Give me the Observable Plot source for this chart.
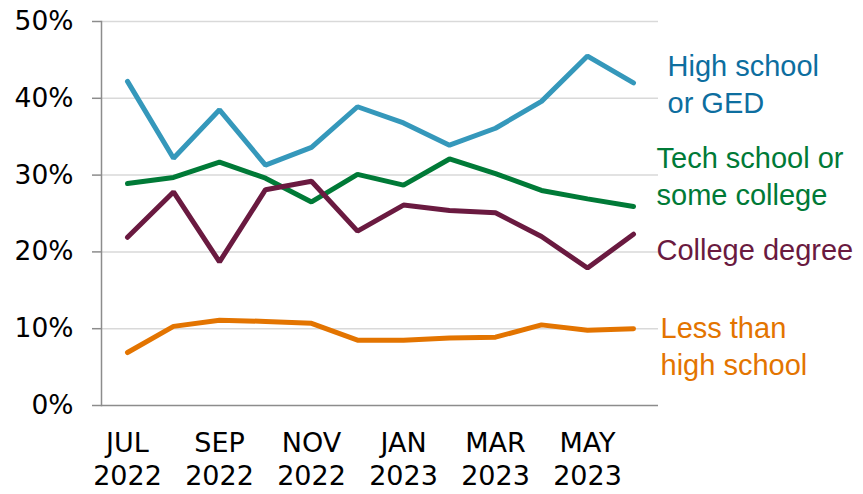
<!DOCTYPE html>
<html>
<head>
<meta charset="utf-8">
<script src="https://cdn.jsdelivr.net/npm/d3@7"></script>
<script src="https://cdn.jsdelivr.net/npm/@observablehq/plot@0.6"></script>
<style>
  html, body { margin: 0; padding: 0; background: #fff; }
  #chart svg { display: block; }
</style>
</head>
<body>
<div id="chart"></div>
<script>
// Months (x categories)
const months = ["JUL 2022","AUG 2022","SEP 2022","OCT 2022","NOV 2022","DEC 2022",
                "JAN 2023","FEB 2023","MAR 2023","APR 2023","MAY 2023","JUN 2023"];
// Labeled ticks on the x axis
const xTickMonths = ["JUL 2022","SEP 2022","NOV 2022","JAN 2023","MAR 2023","MAY 2023"];
// Y ticks
const yTicks = [0, 0.1, 0.2, 0.3, 0.4, 0.5];

// Series values (share)
const highSchool = [0.422,0.322,0.385,0.313,0.336,0.389,0.368,0.339,0.361,0.396,0.455,0.420];
const techSchool = [0.289,0.297,0.317,0.296,0.265,0.301,0.287,0.321,0.302,0.280,0.269,0.259];
const collegeDegree = [0.219,0.278,0.187,0.281,0.292,0.227,0.261,0.254,0.251,0.220,0.179,0.223];
const lessThanHS = [0.069,0.103,0.111,0.1095,0.107,0.085,0.085,0.088,0.089,0.105,0.098,0.100];

// Series names, colours, label text
const seriesNames = ["High school or GED","Tech school or some college","College degree","Less than high school"];
const seriesValues = [highSchool, techSchool, collegeDegree, lessThanHS];
const lineColors = ["#3598bb","#007a37","#6a1a40","#e37400"];
const labelColors = ["#0d6e9f","#007a37","#6a1a40","#e37400"];
const labelText = ["High school\nor GED","Tech school or\nsome college","College degree","Less than\nhigh school"];
const labelDx = [34, 23, 23, 27];
const labelDy = [0, -32, 14, 16];

const rows = [];
seriesNames.forEach((s, i) => {
  seriesValues[i].forEach((v, j) => rows.push({series: s, month: months[j], value: v}));
});
const lastRows = seriesNames.map((s, i) => ({
  series: s, month: months[months.length - 1], value: seriesValues[i][months.length - 1],
  text: labelText[i], color: labelColors[i], dx: labelDx[i], dy: labelDy[i]
}));

const tickFont = "'DejaVu Sans', Verdana, sans-serif";
const labelFont = "'Liberation Sans', Arial, sans-serif";

const chart = Plot.plot({
  width: 863,
  height: 494,
  marginLeft: 101,
  marginRight: 205,
  marginTop: 21,
  marginBottom: 89,
  style: {fontFamily: tickFont, fontSize: "27px", color: "#000", background: "#fff", overflow: "visible"},
  x: {type: "point", domain: months, padding: 0.5},
  y: {domain: [0, 0.5]},
  color: {domain: seriesNames, range: lineColors},
  marks: [
    Plot.gridY(yTicks.filter(d => d > 0), {stroke: "#d9d9d9", strokeOpacity: 1, strokeWidth: 1.5}),
    Plot.axisY({ticks: yTicks, tickFormat: d => Math.round(d * 100) + "%", tickSize: 9, tickPadding: 19,
                stroke: "#8c8c8c", strokeWidth: 1.5, fontSize: 26.5, label: null}),
    Plot.frame({anchor: "left", stroke: "#8c8c8c", strokeWidth: 1.5}),
    Plot.ruleY([0], {stroke: "#8c8c8c", strokeWidth: 1.5}),
    Plot.axisX({ticks: xTickMonths, tickSize: 0, tickPadding: 23, tickFormat: d => d.replace(" ", "\n"),
                lineHeight: 1.22, fontSize: 27, label: null}),
    Plot.line(rows, {x: "month", y: "value", z: "series", stroke: "series", strokeWidth: 5,
                     strokeLinejoin: "miter", strokeLinecap: "round"}),
    ...lastRows.map(r => Plot.text([r], {x: "month", y: "value", text: "text", fill: r.color,
                     textAnchor: "start", lineAnchor: "middle", dx: r.dx, dy: r.dy,
                     fontFamily: labelFont, fontSize: 29, lineHeight: 1.28}))
  ]
});
document.getElementById("chart").appendChild(chart);
</script>
</body>
</html>
